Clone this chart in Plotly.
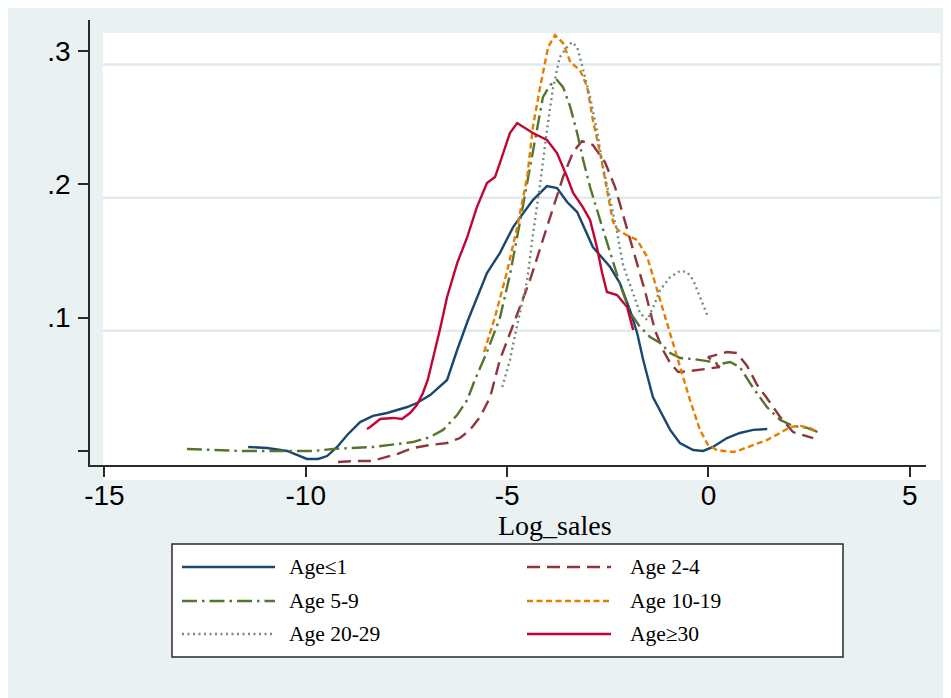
import plotly.graph_objects as go

# ---------------- data ----------------
series_names = ["Age\u22641", "Age 2-4", "Age 5-9", "Age 10-19", "Age 20-29", "Age\u226530"]

age_le1_x = [-11.43, -10.96, -10.46, -9.97, -9.69, -9.47, -9.22, -8.97, -8.65, -8.33, -7.98, -7.48,
             -7.24, -6.91, -6.49, -6.24, -5.97, -5.50, -5.18, -4.85, -4.36, -4.01, -3.76, -3.51,
             -3.26, -2.87, -2.44, -2.20, -1.95, -1.77, -1.62, -1.38, -0.95, -0.71, -0.38, -0.13,
             0.11, 0.46, 0.78, 1.11, 1.46]
age_le1_y = [0.0028, 0.0020, -0.0002, -0.0062, -0.0062, -0.0040, 0.0028, 0.0118, 0.0215, 0.0261,
             0.0283, 0.0328, 0.0358, 0.0418, 0.0531, 0.0756, 0.0981, 0.1334, 0.1484, 0.1679,
             0.1882, 0.1987, 0.1972, 0.1867, 0.1792, 0.1529, 0.1379, 0.1259, 0.1056, 0.0884,
             0.0681, 0.0403, 0.0156, 0.0058, 0.0005, -0.0002, 0.0028, 0.0095, 0.0133, 0.0156,
             0.0163]

age_2_4_x = [-9.20, -8.73, -8.35, -8.16, -7.73, -7.34, -6.91, -6.49, -6.17, -5.92, -5.67, -5.42,
             -5.18, -4.85, -4.43, -4.01, -3.61, -3.36, -3.14, -2.87, -2.57, -2.32, -2.07, -1.82,
             -1.57, -1.33, -1.13, -0.95, -0.75, -0.46, -0.08, 0.28, -0.01, 0.46, 0.71, 0.96,
             1.21, 1.45, 1.78, 2.10, 2.60]
age_2_4_y = [-0.0085, -0.0077, -0.0077, -0.0062, -0.0025, 0.0020, 0.0043, 0.0058, 0.0095, 0.0156,
             0.0253, 0.0403, 0.0681, 0.0944, 0.1282, 0.1679, 0.2055, 0.2243, 0.2325, 0.2295,
             0.2167, 0.1980, 0.1717, 0.1454, 0.1192, 0.0906, 0.0756, 0.0658, 0.0591, 0.0598,
             0.0613, 0.0628, 0.0703, 0.0741, 0.0733, 0.0636, 0.0493, 0.0396, 0.0253, 0.0140,
             0.0095]

age_5_9_x = [-12.95, -12.30, -11.63, -10.96, -10.32, -9.82, -9.32, -8.83, -8.33, -7.74, -7.34,
             -6.91, -6.59, -6.24, -5.99, -5.80, -5.50, -5.18, -4.93, -4.68, -4.43, -4.26, -4.11,
             -3.93, -3.76, -3.61, -3.43, -3.26, -3.11, -2.94, -2.69, -2.44, -2.19, -1.95, -1.70,
             -1.45, -1.20, -0.95, -0.70, -0.38, -0.03, 0.29, 0.54, 0.78, 1.11, 1.45, 1.78, 2.10,
             2.45, 2.72]
age_5_9_y = [0.0013, 0.0005, -0.0002, -0.0002, -0.0002, -0.0002, 0.0013, 0.0020, 0.0028, 0.0050,
             0.0065, 0.0103, 0.0156, 0.0268, 0.0381, 0.0531, 0.0741, 0.0996, 0.1319, 0.1717,
             0.2145, 0.2408, 0.2655, 0.2745, 0.2783, 0.2730, 0.2580, 0.2385, 0.2182, 0.1980,
             0.1732, 0.1484, 0.1244, 0.1041, 0.0929, 0.0854, 0.0809, 0.0733, 0.0696, 0.0688,
             0.0673, 0.0651, 0.0666, 0.0628, 0.0471, 0.0328, 0.0231, 0.0186, 0.0171, 0.0140]

age_10_19_x = [-5.57, -5.30, -5.01, -4.75, -4.50, -4.36, -4.18, -3.98, -3.81, -3.61, -3.43, -3.19,
               -3.01, -2.87, -2.69, -2.52, -2.37, -2.25, -2.03, -1.77, -1.52, -1.37, -1.20, -1.03,
               -0.88, -0.70, -0.46, -0.21, -0.01, 0.21, 0.61, 0.78, 1.11, 1.45, 1.78, 2.03, 2.28,
               2.52, 2.72]
age_10_19_y = [0.0741, 0.1004, 0.1334, 0.1679, 0.2055, 0.2430, 0.2730, 0.3031, 0.3121, 0.3061,
               0.2918, 0.2858, 0.2730, 0.2483, 0.2235, 0.1957, 0.1717, 0.1657, 0.1619, 0.1582,
               0.1454, 0.1304, 0.1131, 0.0959, 0.0809, 0.0628, 0.0381, 0.0156, 0.0043, 0.0005,
               -0.0010, 0.0005, 0.0043, 0.0080, 0.0133, 0.0178, 0.0186, 0.0171, 0.0140]

age_20_29_x = [-5.12, -4.93, -4.75, -4.50, -4.36, -4.18, -4.01, -3.86, -3.69, -3.51, -3.39, -3.26,
               -3.11, -2.94, -2.77, -2.62, -2.44, -2.27, -2.12, -1.87, -1.70, -1.52, -1.37, -1.20,
               -0.95, -0.70, -0.53, -0.38, -0.21, -0.03]
age_20_29_y = [0.0478, 0.0681, 0.0944, 0.1282, 0.1620, 0.2002, 0.2408, 0.2723, 0.2956, 0.3031,
               0.3068, 0.3031, 0.2858, 0.2655, 0.2408, 0.2130, 0.1882, 0.1642, 0.1394, 0.1184,
               0.1034, 0.0981, 0.1079, 0.1207, 0.1304, 0.1350, 0.1342, 0.1282, 0.1154, 0.1019]

age_ge30_x = [-8.48, -8.40, -8.15, -7.83, -7.61, -7.41, -7.24, -7.09, -6.97, -6.82, -6.67, -6.49,
              -6.24, -5.99, -5.75, -5.50, -5.30, -5.18, -4.93, -4.75, -4.36, -4.01, -3.76, -3.51,
              -3.36, -3.12, -2.94, -2.77, -2.64, -2.52, -2.27, -2.02, -1.87]
age_ge30_y = [0.0163, 0.0178, 0.0238, 0.0246, 0.0238, 0.0283, 0.0343, 0.0433, 0.0531, 0.0718,
              0.0906, 0.1154, 0.1408, 0.1604, 0.1829, 0.2010, 0.2055, 0.2160, 0.2385, 0.2460,
              0.2385, 0.2333, 0.2235, 0.2055, 0.1935, 0.1829, 0.1732, 0.1529, 0.1334, 0.1192,
              0.1169, 0.1079, 0.0906]

x_tick_vals = [-15, -10, -5, 0, 5]
x_tick_text = ["-15", "-10", "-5", "0", "5"]
y_tick_vals = [0, 0.1, 0.2, 0.3]
y_tick_text = ["", ".1", ".2", ".3"]
y_grid_vals = [0.09, 0.19, 0.29]
x_title = "Log_sales"

# ---------------- styling ----------------
colors = ["#1a476f", "#90353b", "#55752f", "#e37e00", "#6e8e84", "#c10534"]
dashes = ["solid", "13px,7px", "15px,5px,2.5px,5px", "6px,3.5px", "2px,3.5px", "solid"]
LW = 2.4

xs = [age_le1_x, age_2_4_x, age_5_9_x, age_10_19_x, age_20_29_x, age_ge30_x]
ys = [age_le1_y, age_2_4_y, age_5_9_y, age_10_19_y, age_20_29_y, age_ge30_y]

X_RANGE = [-15.357, 5.402]
Y_RANGE = [-0.01074, 0.3234]

fig = go.Figure()
for name, x, y, c, d in zip(series_names, xs, ys, colors, dashes):
    fig.add_trace(go.Scatter(x=x, y=y, mode="lines", name=name,
                             line=dict(color=c, width=LW, dash=d),
                             showlegend=False, hoverinfo="skip"))

BG = "#e9f1f3"
GRID = "#e1eaee"
AX = "#2a2a2a"
OFF = 8                      # page body margin
W, H = 951 - OFF, 698 - OFF
ML, MR, MT, MB = 90 - OFF, 25, 20 - OFF, 233
PW, PH = W - ML - MR, H - MT - MB


def px2paper_x(p):
    return (p - OFF - ML) / PW


def px2paper_y(p):
    return (H - MB - (p - OFF)) / PH


shapes = []
# white plot region
shapes.append(dict(type="rect", xref="paper", yref="paper", layer="below",
                   x0=px2paper_x(103), x1=px2paper_x(940), y0=px2paper_y(480), y1=px2paper_y(33),
                   fillcolor="white", line=dict(width=0)))
# grid lines (offset as in the reference)
for gv in y_grid_vals:
    yp = (gv - Y_RANGE[0]) / (Y_RANGE[1] - Y_RANGE[0])
    shapes.append(dict(type="line", xref="paper", yref="paper", layer="below",
                       x0=px2paper_x(103), x1=px2paper_x(940), y0=yp, y1=yp,
                       line=dict(color=GRID, width=2.5)))

# legend box
shapes.append(dict(type="rect", xref="paper", yref="paper", layer="above",
                   x0=px2paper_x(172), x1=px2paper_x(843), y0=px2paper_y(657), y1=px2paper_y(544),
                   fillcolor="white", line=dict(color=AX, width=1.5)))

annotations = []
row_y = [567, 601, 634]
col_line = [(182, 275, 287), (527, 611, 628)]
for i, (name, c, d) in enumerate(zip(series_names, colors, dashes)):
    r, col = divmod(i, 2)
    lx0, lx1, tx = col_line[col]
    yy = px2paper_y(row_y[r])
    shapes.append(dict(type="line", xref="paper", yref="paper", layer="above",
                       x0=px2paper_x(lx0), x1=px2paper_x(lx1), y0=yy, y1=yy,
                       line=dict(color=c, width=LW, dash=d)))
    annotations.append(dict(xref="paper", yref="paper", x=px2paper_x(tx), y=yy,
                            xanchor="left", yanchor="middle", text=name, showarrow=False,
                            font=dict(family="Liberation Serif, Times New Roman, serif",
                                      size=21.5, color="black")))

annotations.append(dict(xref="paper", yref="paper", x=px2paper_x(555), y=px2paper_y(525),
                        xanchor="center", yanchor="middle", text=x_title, showarrow=False,
                        borderpad=0,
                        font=dict(family="Liberation Serif, Times New Roman, serif",
                                  size=28, color="black")))

tickfont = dict(family="Liberation Sans, Arial, sans-serif", size=28, color="black")
fig.update_layout(
    template="none",
    width=W, height=H,
    margin=dict(l=ML, r=MR, t=MT, b=MB, pad=0, autoexpand=False),
    paper_bgcolor=BG,
    plot_bgcolor="rgba(0,0,0,0)",
    shapes=shapes,
    annotations=annotations,
    showlegend=False,
    xaxis=dict(range=X_RANGE, tickvals=x_tick_vals, ticktext=x_tick_text, automargin=False,
               showgrid=False, zeroline=False, showline=True, linecolor=AX, linewidth=1.5,
               ticks="outside", ticklen=10, tickwidth=1.5, tickcolor=AX,
               tickfont=tickfont, ticklabelstandoff=-5, fixedrange=True),
    yaxis=dict(range=Y_RANGE, tickvals=y_tick_vals, ticktext=y_tick_text, automargin=False,
               showgrid=False, zeroline=False, showline=True, linecolor=AX, linewidth=1.5,
               ticks="outside", ticklen=10, tickwidth=1.5, tickcolor=AX,
               tickfont=tickfont, ticklabelstandoff=2, fixedrange=True),
)

fig.write_html("out.html")
